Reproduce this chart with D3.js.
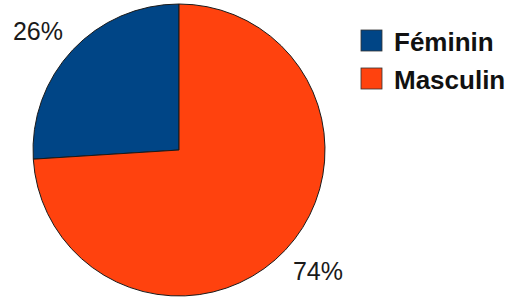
<!DOCTYPE html>
<html>
<head>
<meta charset="utf-8">
<script src="https://cdn.jsdelivr.net/npm/d3@7"></script>
<style>
  body { margin: 0; background: #fff; }
  svg { display: block; }
</style>
</head>
<body>
<div id="chart"></div>
<script>
// données
const categories = ["Féminin", "Masculin"];
const values = [26, 74];
const labels = ["26%", "74%"];
const colors = ["#004586", "#ff420e"];

const width = 511, height = 299;
const cx = 179, cy = 150, radius = 146;

const svg = d3.select("#chart").append("svg")
    .attr("width", width)
    .attr("height", height);

// secteurs : Féminin part de midi dans le sens antihoraire
const pie = d3.pie()
    .sort(null)
    .startAngle(0)
    .endAngle(-2 * Math.PI)
    .value(d => d);

const arcs = pie(values);
const arc = d3.arc().innerRadius(0).outerRadius(radius);

const g = svg.append("g").attr("transform", `translate(${cx},${cy})`);

g.selectAll("path")
    .data(arcs)
    .join("path")
    .attr("d", arc)
    .attr("fill", (d, i) => colors[i])
    .attr("stroke", "#1a1a1a")
    .attr("stroke-width", 1);

// étiquettes de pourcentage
const labelPos = [[38, 40], [318, 280]];
svg.selectAll("text.pct")
    .data(labels)
    .join("text")
    .attr("class", "pct")
    .attr("x", (d, i) => labelPos[i][0])
    .attr("y", (d, i) => labelPos[i][1])
    .attr("text-anchor", "middle")
    .attr("font-family", "Liberation Sans, Arial, sans-serif")
    .attr("font-size", 25)
    .attr("fill", "#1a1a1a")
    .text(d => d);

// légende
const legend = svg.append("g").attr("transform", "translate(361,30)");
const item = legend.selectAll("g")
    .data(categories)
    .join("g")
    .attr("transform", (d, i) => `translate(0,${i * 38})`);

item.append("rect")
    .attr("width", 21)
    .attr("height", 21)
    .attr("fill", (d, i) => colors[i])
    .attr("stroke", "#333")
    .attr("stroke-width", 0.8);

item.append("text")
    .attr("x", 33)
    .attr("y", 21)
    .attr("font-family", "Liberation Sans, Arial, sans-serif")
    .attr("font-weight", "bold")
    .attr("font-size", 26)
    .attr("fill", "#111")
    .text(d => d);
</script>
</body>
</html>
